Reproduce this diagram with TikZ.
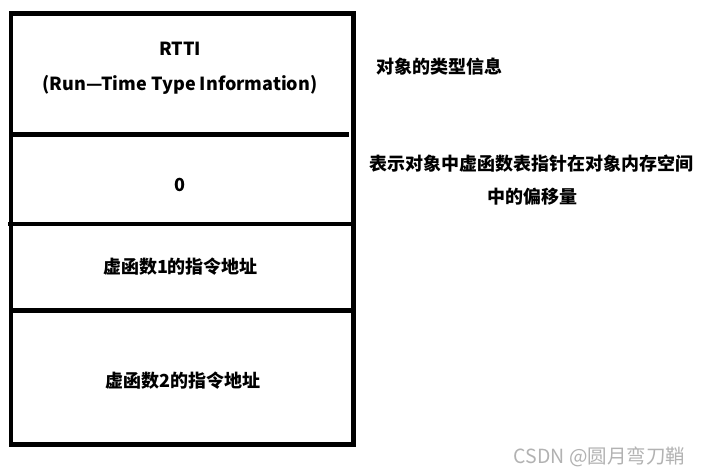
\documentclass[tikz,border=0pt]{standalone}
\usepackage{fontspec}
\setmainfont{Noto Sans CJK SC}
\begin{document}
\begin{tikzpicture}[x=1pt,y=-1pt,
  frame/.style={line width=4.5pt},
  lbl/.style={font=\fontsize{18}{18}\selectfont\bfseries, anchor=base, inner sep=0pt},
  wmark/.style={font=\fontsize{19.5}{19.5}\selectfont, text=black!30, anchor=base, inner sep=0pt}]
\useasboundingbox[fill=white] (0,0) rectangle (704,476);
% frame
\draw[frame] (11,13.5) rectangle (353.5,444.5);
\coordinate (d1a) at (11,134.5); \coordinate (d1b) at (349,134.5);
\coordinate (d2a) at (8,224);    \coordinate (d2b) at (356,224);
\coordinate (d3a) at (11,310.5); \coordinate (d3b) at (353.5,310.5);
\draw[frame] (d1a) -- (d1b);
\draw[frame] (d2a) -- (d2b);
\draw[frame] (d3a) -- (d3b);
% cell texts
\node[lbl] (rtti) at (180,56) {RTTI};
\node[lbl] (rtti2) at (180,91) {(Run—Time Type Information)};
\node[lbl] (zero) at (180,191) {0};
\node[lbl] (vf1) at (180.5,273) {虚函数1的指令地址};
\node[lbl] (vf2) at (183,387) {虚函数2的指令地址};
% notes
\node[lbl] (n1) at (439.5,74) {对象的类型信息};
\node[lbl] (n2) at (531,170) {表示对象中虚函数表指针在对象内存空间};
\node[lbl] (n3) at (532,203) {中的偏移量};
\node[wmark] (wm) at (599.5,463) {CSDN @圆月弯刀鞘};
\end{tikzpicture}
\end{document}
